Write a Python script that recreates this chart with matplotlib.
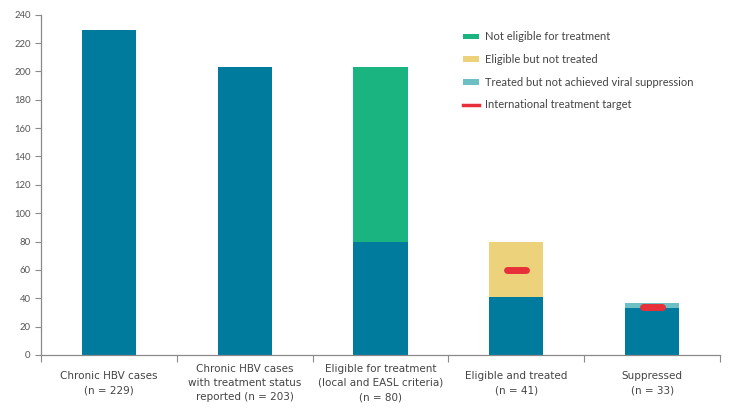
import matplotlib
matplotlib.use("Agg")
import matplotlib.pyplot as plt
from matplotlib.lines import Line2D
from matplotlib.patches import Patch

categories = [
    "Chronic HBV cases\n(n = 229)",
    "Chronic HBV cases\nwith treatment status\nreported (n = 203)",
    "Eligible for treatment\n(local and EASL criteria)\n(n = 80)",
    "Eligible and treated\n(n = 41)",
    "Suppressed\n(n = 33)",
]
base_values = [229, 203, 80, 41, 33]
not_eligible = [0, 0, 123, 0, 0]
eligible_not_treated = [0, 0, 0, 39, 0]
treated_not_suppressed = [0, 0, 0, 0, 4]
target_idx = [3, 4]
target_values = [60, 33.5]
yticks = list(range(0, 241, 20))

BLUE = "#007B9E"
GREEN = "#19B47F"
YELLOW = "#EDD27C"
TEAL = "#6CBFC3"
RED = "#E8303A"
GREY = "#8a8a8a"

fig = plt.figure(figsize=(7.32, 4.16), dpi=100)
ax = fig.add_axes([41 / 732, 61 / 416, (720 - 41) / 732, 340.3 / 416])

x = [i + 0.5 for i in range(len(categories))]
w = 0.4
ax.bar(x, base_values, width=w, color=BLUE, zorder=2)
bottom2 = base_values
ax.bar(x, not_eligible, width=w, bottom=bottom2, color=GREEN, zorder=2)
bottom3 = [a + b for a, b in zip(bottom2, not_eligible)]
ax.bar(x, eligible_not_treated, width=w, bottom=bottom3, color=YELLOW, zorder=2)
bottom4 = [a + b for a, b in zip(bottom3, eligible_not_treated)]
ax.bar(x, treated_not_suppressed, width=w, bottom=bottom4, color=TEAL, zorder=2)

for i, v in zip(target_idx, target_values):
    ax.plot([x[i] - 0.07, x[i] + 0.07], [v, v], color=RED, lw=5,
            solid_capstyle="round", zorder=3)

ax.set_xlim(0, 5)
ax.set_ylim(0, 240)
ax.set_yticks(yticks)
ax.set_yticklabels([str(t) for t in yticks], fontsize=6.8, color="#555555",
                   family=["Lato", "DejaVu Sans"])
ax.set_xticks(range(0, 6))
ax.set_xticklabels([])
ax.tick_params(axis="both", color=GREY, length=4, width=0.8)
ax.tick_params(axis="x", length=5)
for s in ["top", "right"]:
    ax.spines[s].set_visible(False)
for s in ["left", "bottom"]:
    ax.spines[s].set_color(GREY)
    ax.spines[s].set_linewidth(0.9)

for xi, lab in zip(x, categories):
    ax.text(xi, -0.082, lab, transform=ax.get_xaxis_transform(),
            ha="center", va="center", multialignment="center",
            fontsize=7.5, color="#444444", linespacing=1.55,
            family=["Liberation Sans Narrow", "DejaVu Sans"])

handles = [
    Patch(facecolor=GREEN, edgecolor="none"),
    Patch(facecolor=YELLOW, edgecolor="none"),
    Patch(facecolor=TEAL, edgecolor="none"),
    Line2D([0], [0], color=RED, lw=2.5),
]
labels = [
    "Not eligible for treatment",
    "Eligible but not treated",
    "Treated but not achieved viral suppression",
    "International treatment target",
]
leg = ax.legend(handles, labels, loc="upper left",
                bbox_to_anchor=((459 - 41) / 679, 1 - (27 - 14.7) / 340.3),
                frameon=False, handlelength=1.4, handleheight=0.45,
                handletextpad=0.5, labelspacing=1.05, borderaxespad=0,
                prop={"family": ["Lato", "DejaVu Sans"], "size": 8},
                labelcolor="#444444")

fig.savefig("out.png", dpi=100)
